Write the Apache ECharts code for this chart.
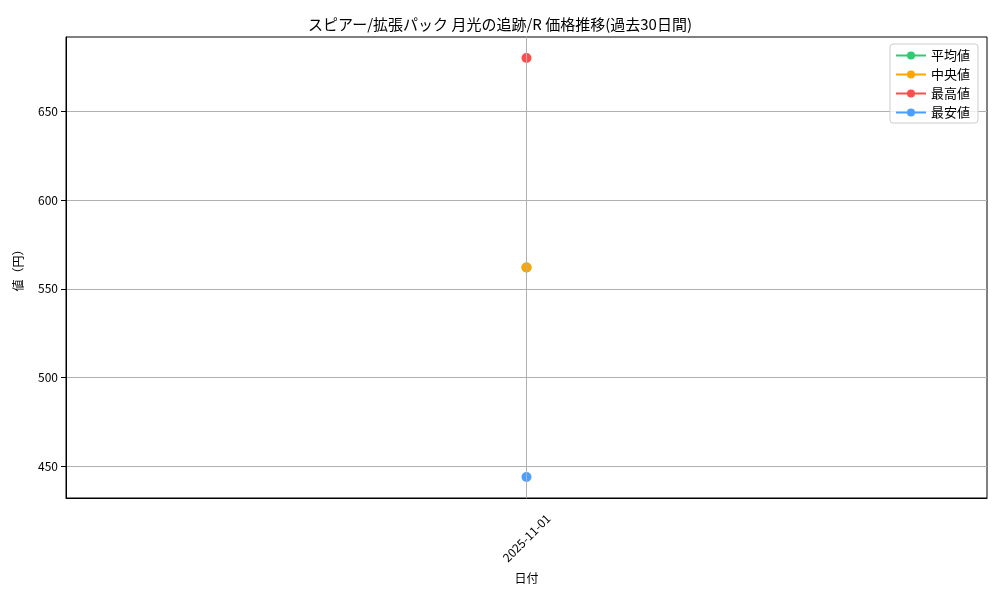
<!DOCTYPE html>
<html>
<head>
<meta charset="utf-8">
<script src="https://cdn.jsdelivr.net/npm/echarts@6/dist/echarts.min.js"></script>
<style>
  html, body { margin: 0; padding: 0; background: #fff; }
  #chart { width: 1000px; height: 600px; }
</style>
</head>
<body>
<div id="chart"></div>
<script>
// 日付と各系列の値
var dates = ['2025-11-01'];
var avgPrice = [562];
var medianPrice = [562];
var maxPrice = [680];
var minPrice = [444];
var yTicks = [450, 500, 550, 600, 650];

var FONT = '"Noto Sans CJK JP", "DejaVu Sans", sans-serif';

function lineSeries(name, data, color) {
    return {
        name: name,
        type: 'line',
        data: data,
        symbol: 'circle',
        symbolSize: 10,
        showSymbol: true,
        itemStyle: { color: color },
        lineStyle: { color: color, width: 1.5 },
        z: 3,
        animation: false
    };
}

var avgSeries = lineSeries('平均値', avgPrice, '#2ecc71');
// 縦のグリッド線（日付の位置）
avgSeries.markLine = {
    silent: true,
    symbol: 'none',
    label: { show: false },
    lineStyle: { color: '#b0b0b0', width: 1, type: 'solid' },
    data: [{ xAxis: dates[0] }],
    animation: false
};

var dom = document.getElementById('chart');
var myChart = echarts.init(dom);
var option = {
    textStyle: { fontFamily: FONT },
    title: {
        text: 'スピアー/拡張パック 月光の追跡/R 価格推移(過去30日間)',
        left: 'center',
        top: 12,
        textStyle: { fontSize: 15, fontWeight: 'normal', color: '#000', fontFamily: FONT }
    },
    legend: {
        orient: 'vertical',
        right: 22,
        top: 44,
        itemWidth: 30,
        itemHeight: 10,
        itemGap: 6,
        padding: [5, 8, 4, 5],
        borderColor: '#ccc',
        borderWidth: 1,
        borderRadius: 3,
        backgroundColor: 'rgba(255,255,255,0.8)',
        textStyle: { fontSize: 13, color: '#000', fontFamily: FONT },
        data: ['平均値', '中央値', '最高値', '最安値']
    },
    grid: {
        left: 66,
        right: 13,
        top: 37,
        bottom: 102,
        show: true,
        borderColor: '#000',
        borderWidth: 1,
        z: 0
    },
    xAxis: {
        type: 'category',
        data: dates,
        boundaryGap: true,
        name: '日付',
        nameLocation: 'middle',
        nameGap: 74,
        nameTextStyle: { fontSize: 12, color: '#000' },
        axisLine: { lineStyle: { color: '#000' } },
        axisTick: { alignWithLabel: true, interval: 0, length: 5, lineStyle: { color: '#000' } },
        axisLabel: { rotate: 45, fontSize: 12, color: '#000', margin: 40, align: 'center', verticalAlign: 'middle' },
        splitLine: { show: false }
    },
    yAxis: {
        type: 'value',
        min: 432.2,
        max: 691.8,
        name: '値（円）',
        nameLocation: 'middle',
        nameGap: 42,
        nameRotate: 90,
        nameTextStyle: { fontSize: 12, color: '#000' },
        axisLine: { show: true, lineStyle: { color: '#000' } },
        axisTick: { show: true, length: 5, customValues: yTicks, lineStyle: { color: '#000' } },
        axisLabel: { fontSize: 12, color: '#000', customValues: yTicks, margin: 8 },
        splitLine: { show: true, lineStyle: { color: '#b0b0b0', width: 1 } }
    },
    series: [
        avgSeries,
        lineSeries('中央値', medianPrice, '#ffa500'),
        lineSeries('最高値', maxPrice, '#ff4d4d'),
        lineSeries('最安値', minPrice, '#4d9fff')
    ]
};
if (option && typeof option === "object") {
    myChart.setOption(option, true);
}
</script>
</body>
</html>
